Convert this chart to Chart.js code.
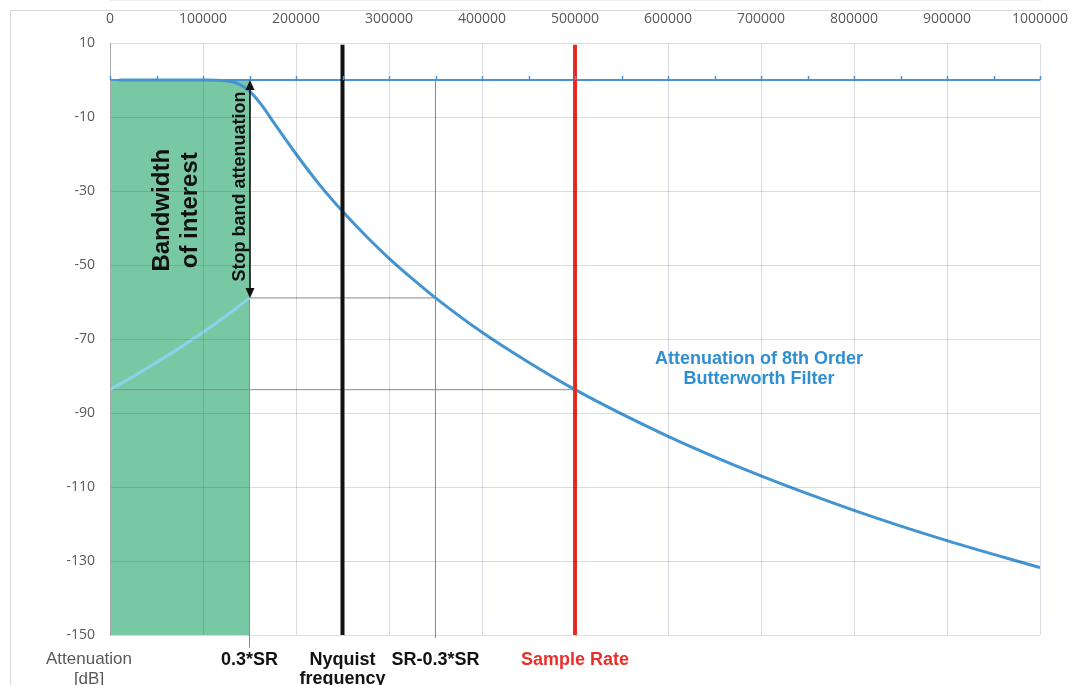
<!DOCTYPE html>
<html>
<head>
<meta charset="utf-8">
<script src="https://cdn.jsdelivr.net/npm/chart.js@4.4.1/dist/chart.umd.min.js"></script>
<style>
  html, body { margin: 0; padding: 0; background: #ffffff; }
  #wrap { width: 1068px; height: 685px; }
</style>
</head>
<body>
<div id="wrap"><canvas id="c" width="1068" height="685"></canvas></div>
<script>
// ---- data ----
const freqs = [10000, 25000, 50000, 75000, 100000, 112500, 125000, 137500, 150000, 162500, 175000, 187500, 200000, 225000, 250000, 275000, 300000, 325000, 350000, 400000, 450000, 500000, 600000, 700000, 800000, 900000, 1000000];
const attenuation = [0, 0, 0, 0, -0.01, -0.04, -0.23, -0.96, -3.0, -6.6, -11.1, -15.6, -20.0, -28.2, -35.5, -42.1, -48.2, -53.7, -58.9, -68.2, -76.3, -83.7, -96.3, -107.0, -116.3, -124.5, -131.8];
const aliasFreqs = [0, 25000, 50000, 75000, 100000, 125000, 150000];
const aliasAttenuation = [-83.7, -80.1, -76.3, -72.4, -68.2, -63.7, -58.9];
const bandEdge = 150000;        // 0.3*SR
const nyquist = 250000;
const imageEdge = 350000;       // SR-0.3*SR
const sampleRate = 500000;
const stopBandLevel = -58.9;
const sampleRateLevel = -83.7;
const yMin = -150, yMax = 10, yStep = 20;
const xMin = 0, xMax = 1000000, xStep = 100000;
const zeroTickStep = 50000;
const markerPositions = [bandEdge, nyquist, imageEdge, sampleRate];
const markerLabels = [["0.3*SR"], ["Nyquist", "frequency"], ["SR-0.3*SR"], ["Sample Rate"]];
const markerColors = ["#111111", "#111111", "#111111", "#e8302a"];
const yTitle = ["Attenuation", "[dB]"];
const curveLabel = ["Attenuation of 8th Order", "Butterworth Filter"];
const curveLabelPos = {x: 700000, y: -78};
const bandLabel = ["Bandwidth", "of interest"];
const bandLabelLevel = -35.2;
const arrowLabel = "Stop band attenuation";

const pts = (xs, ys) => xs.map((x, i) => ({x: x, y: ys[i]}));

const annot = {
  id: 'annot',
  beforeDraw(chart) {
    const ctx = chart.ctx;
    ctx.save();
    ctx.fillStyle = '#ffffff';
    ctx.fillRect(0, 0, chart.width, chart.height);
    ctx.strokeStyle = '#d9d9d9';
    ctx.lineWidth = 1;
    ctx.strokeRect(10.5, 10.5, chart.width + 20, chart.height + 20);
    ctx.restore();
  },
  afterDraw(chart) {
    const ctx = chart.ctx;
    const xs = chart.scales.x, ys = chart.scales.y;
    const area = chart.chartArea;
    ctx.save();
    // small ticks on zero line
    const y0 = ys.getPixelForValue(0);
    ctx.strokeStyle = '#4a93d3';
    ctx.lineWidth = 1.5;
    for (let v = xMin; v <= xMax; v += zeroTickStep) {
      const px = Math.round(xs.getPixelForValue(v)) + 0.5;
      ctx.beginPath(); ctx.moveTo(px, y0); ctx.lineTo(px, y0 - 4); ctx.stroke();
    }
    // double arrow for stop band attenuation
    const ax = xs.getPixelForValue(bandEdge) + 0.5;
    const aTop = ys.getPixelForValue(0);
    const aBot = ys.getPixelForValue(stopBandLevel);
    ctx.strokeStyle = '#111'; ctx.fillStyle = '#111'; ctx.lineWidth = 1.6;
    ctx.beginPath(); ctx.moveTo(ax, aTop + 6); ctx.lineTo(ax, aBot - 6); ctx.stroke();
    ctx.beginPath(); ctx.moveTo(ax, aTop); ctx.lineTo(ax - 4.5, aTop + 10); ctx.lineTo(ax + 4.5, aTop + 10); ctx.closePath(); ctx.fill();
    ctx.beginPath(); ctx.moveTo(ax, aBot); ctx.lineTo(ax - 4.5, aBot - 10); ctx.lineTo(ax + 4.5, aBot - 10); ctx.closePath(); ctx.fill();
    // rotated texts
    const midY = (aTop + aBot) / 2 - 2.5;
    ctx.save();
    ctx.translate(ax - 10, midY);
    ctx.rotate(-Math.PI / 2);
    ctx.font = 'bold 18px "Liberation Sans", Arial, sans-serif';
    ctx.textAlign = 'center'; ctx.textBaseline = 'middle';
    ctx.fillStyle = '#111';
    ctx.fillText(arrowLabel, 0, 0);
    ctx.restore();

    const bx = (xs.getPixelForValue(0) + xs.getPixelForValue(bandEdge)) / 2 - 3;
    ctx.save();
    ctx.translate(bx, ys.getPixelForValue(bandLabelLevel));
    ctx.rotate(-Math.PI / 2);
    ctx.font = 'bold 24px "Liberation Sans", Arial, sans-serif';
    ctx.textAlign = 'center'; ctx.textBaseline = 'middle';
    ctx.fillStyle = '#111';
    ctx.fillText(bandLabel[0], 0, -14);
    ctx.fillText(bandLabel[1], 0, 14);
    ctx.restore();

    // curve label
    ctx.font = 'bold 18px "Liberation Sans", Arial, sans-serif';
    ctx.fillStyle = '#2f8fd0';
    ctx.textAlign = 'center'; ctx.textBaseline = 'middle';
    const cx = xs.getPixelForValue(curveLabelPos.x) - 2;
    const cy = ys.getPixelForValue(curveLabelPos.y);
    ctx.fillText(curveLabel[0], cx, cy - 10);
    ctx.fillText(curveLabel[1], cx, cy + 10);

    // bottom labels
    ctx.font = 'bold 18px "Liberation Sans", Arial, sans-serif';
    markerPositions.forEach((v, i) => {
      ctx.fillStyle = markerColors[i];
      const px = xs.getPixelForValue(v);
      markerLabels[i].forEach((t, j) => ctx.fillText(t, px, area.bottom + 25 + j * 19));
    });
    ctx.font = '17px "Liberation Sans", Arial, sans-serif';
    ctx.fillStyle = '#595959';
    yTitle.forEach((t, j) => ctx.fillText(t, 89, area.bottom + 24 + j * 20));
    ctx.restore();
  }
};

const lineDs = (data, color, width, order, extra) => Object.assign({
  data: data, showLine: true, borderColor: color, borderWidth: width,
  pointRadius: 0, pointHoverRadius: 0, fill: false, order: order, tension: 0
}, extra || {});

new Chart(document.getElementById('c'), {
  type: 'scatter',
  data: {
    datasets: [
      lineDs(pts([0, bandEdge], [0, 0]), 'rgba(0,0,0,0)', 0, 20, {fill: {value: yMin}, backgroundColor: '#78c9a3'}),
      lineDs(pts([bandEdge, imageEdge], [stopBandLevel, stopBandLevel]), '#8a8a8a', 1, 15),
      lineDs(pts([0, sampleRate], [sampleRateLevel, sampleRateLevel]), '#8a8a8a', 1, 15),
      lineDs(pts([imageEdge, imageEdge], [0, -150.8]), '#8a8a8a', 1, 15, {clip: false}),
      lineDs(pts([bandEdge, bandEdge], [0, -153.3]), '#8a8a8a', 1, 15, {clip: false}),
      lineDs(pts([xMin, xMax], [0, 0]), '#4a93d3', 1.8, 12),
      lineDs(pts(aliasFreqs, aliasAttenuation), '#8fd0ec', 3, 8, {cubicInterpolationMode: 'monotone'}),
      lineDs(pts(freqs, attenuation), '#4394d0', 3, 6, {cubicInterpolationMode: 'monotone'}),
      lineDs(pts([nyquist, nyquist], [yMin, 9.5]), '#111111', 4, 4),
      lineDs(pts([sampleRate, sampleRate], [yMin, 9.5]), '#e8302a', 4, 4)
    ]
  },
  options: {
    responsive: false,
    animation: false,
    devicePixelRatio: 1,
    layout: { padding: { left: 0, top: 0, right: 28, bottom: 50 } },
    plugins: { legend: { display: false }, tooltip: { enabled: false } },
    scales: {
      x: {
        type: 'linear', position: 'top', min: xMin, max: xMax,
        afterFit: s => { s.height = 43; s.paddingRight = 0; s.paddingLeft = 0; },
        ticks: { stepSize: xStep, callback: v => String(v), color: '#595959', padding: 16,
                 font: { family: '"Open Sans", sans-serif', size: 14 }, maxRotation: 0, autoSkip: false },
        grid: { color: 'rgba(40,40,90,0.17)', drawTicks: false, z: 1 },
        border: { color: 'rgba(40,40,90,0.17)' }
      },
      y: {
        type: 'linear', min: yMin, max: yMax,
        afterFit: s => { s.width = 110; },
        ticks: { stepSize: yStep, color: '#595959', padding: 15,
                 font: { family: '"Open Sans", sans-serif', size: 14 } },
        grid: { color: 'rgba(40,40,90,0.17)', drawTicks: false, z: 1 },
        border: { color: '#a8a8a8', z: 1 }
      }
    }
  },
  plugins: [annot]
});
</script>
</body>
</html>
